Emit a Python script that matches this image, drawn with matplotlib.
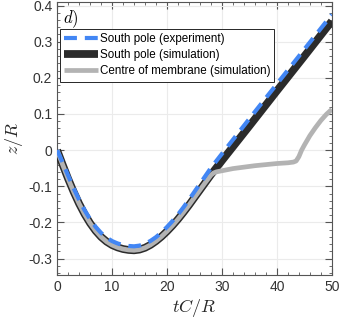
import matplotlib
matplotlib.use('Agg')
import matplotlib.pyplot as plt
from matplotlib.ticker import MultipleLocator

plt.rcParams['font.family'] = ['Liberation Sans', 'DejaVu Sans']
plt.rcParams['mathtext.fontset'] = 'cm'
plt.rcParams['axes.unicode_minus'] = False

# south pole, simulation
t_sim = [0, 1, 2, 3, 4, 5, 6, 7, 8, 9, 10, 11, 12, 13, 14, 15, 16, 17, 18, 19,
         20, 21, 22, 23, 24, 25, 26, 27, 28, 30, 35, 40, 45, 50]
z_sim = [0, -0.040, -0.079, -0.115, -0.148, -0.177, -0.202, -0.223, -0.240,
         -0.253, -0.2625, -0.269, -0.2735, -0.276, -0.277, -0.275, -0.270,
         -0.262, -0.2515, -0.239, -0.2245, -0.2085, -0.191, -0.172, -0.152,
         -0.131, -0.110, -0.089, -0.068, -0.029, 0.067, 0.164, 0.260, 0.357]

# centre of membrane, simulation
t_mem = [0, 1, 2, 3, 4, 5, 6, 7, 8, 9, 10, 11, 12, 13, 14, 15, 16, 17, 18, 19,
         20, 21, 22, 23, 24, 25, 26, 27, 28, 28.5, 29, 30, 31, 32, 34, 36, 38,
         40, 42, 43, 43.5, 44, 44.5, 45, 46, 47, 48, 49, 50]
z_mem = [0, -0.040, -0.079, -0.115, -0.148, -0.177, -0.202, -0.223, -0.240,
         -0.253, -0.2625, -0.269, -0.2735, -0.276, -0.277, -0.275, -0.270,
         -0.262, -0.2515, -0.239, -0.2245, -0.2085, -0.191, -0.172, -0.152,
         -0.131, -0.110, -0.089, -0.069, -0.063, -0.060, -0.057, -0.054,
         -0.051, -0.047, -0.043, -0.040, -0.037, -0.035, -0.033, -0.030,
         -0.018, 0.000, 0.014, 0.040, 0.062, 0.082, 0.099, 0.113]

# south pole, experiment
t_exp = [0, 1, 2, 3, 4, 5, 6, 7, 8, 9, 10, 11, 12, 13, 14, 15, 16, 17, 18, 19,
         20, 21, 22, 23, 24, 25, 26, 27, 28, 30, 35, 40, 45, 50]
z_exp = [0, -0.034, -0.070, -0.105, -0.137, -0.166, -0.191, -0.212, -0.229,
         -0.242, -0.2515, -0.258, -0.2625, -0.265, -0.266, -0.264, -0.259,
         -0.251, -0.2405, -0.2275, -0.2125, -0.196, -0.178, -0.158, -0.137,
         -0.115, -0.093, -0.071, -0.049, -0.010, 0.087, 0.183, 0.279, 0.375]

fig = plt.figure(figsize=(3.4, 3.2), dpi=100)
ax = fig.add_axes([0.168, 0.141, 0.808, 0.853])

ax.plot(t_sim, z_sim, color='#2b2b2b', lw=5.6, solid_capstyle='butt',
        solid_joinstyle='round', label='South pole (simulation)', zorder=3)
ax.plot(t_mem, z_mem, color='#b3b3b3', lw=3.4, solid_capstyle='butt',
        solid_joinstyle='round', label='Centre of membrane (simulation)',
        zorder=4)
ax.plot(t_exp, z_exp, color='#4286f4', lw=3.0, dashes=(3.1, 1.9),
        dash_joinstyle='round', label='South pole (experiment)', zorder=5)

ax.set_xlim(0, 50)
ax.set_ylim(-0.345, 0.41)
ax.xaxis.set_major_locator(MultipleLocator(10))
ax.xaxis.set_minor_locator(MultipleLocator(2))
ax.yaxis.set_minor_locator(MultipleLocator(0.02))
ax.set_yticks([-0.3, -0.2, -0.1, 0, 0.1, 0.2, 0.3, 0.4])
ax.set_yticklabels(['-0.3', '-0.2', '-0.1', '0', '0.1', '0.2', '0.3', '0.4'])
ax.tick_params(which='both', direction='in', top=True, right=True,
               colors='#555555', labelcolor='#333333', labelsize=10)
ax.tick_params(which='major', length=5, width=0.8)
ax.tick_params(which='minor', length=2.5, width=0.6)
for s in ax.spines.values():
    s.set_color('#555555')
    s.set_linewidth(0.8)
ax.grid(True, which='major', color='#ebebeb', lw=0.8, zorder=0)
ax.set_axisbelow(True)

ax.set_xlabel('$tC/R$', fontsize=13, color='#262626', labelpad=2)
ax.set_ylabel('$z/R$', fontsize=13, color='#262626', labelpad=2)

ax.text(0.02, 0.975, '$d)$', transform=ax.transAxes, fontsize=12,
        va='top', ha='left')

h, l = ax.get_legend_handles_labels()
order = [2, 0, 1]
leg = ax.legend([h[i] for i in order], [l[i] for i in order],
                loc='upper left', bbox_to_anchor=(0.01, 0.9),
                fontsize=8.4, handlelength=2.9, handletextpad=0.15,
                borderpad=0.35, labelspacing=0.35, borderaxespad=0,
                fancybox=False, framealpha=1, edgecolor='#262626')
leg.get_frame().set_linewidth(0.7)

fig.savefig('out.png', dpi=100)
